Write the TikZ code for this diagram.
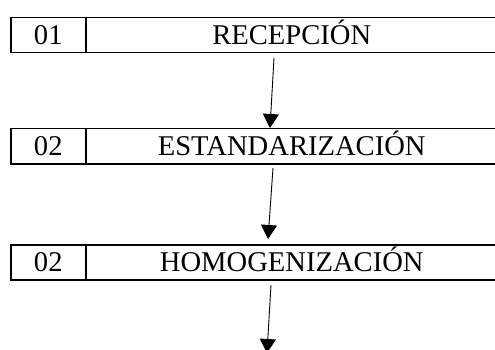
\documentclass[tikz,border=0pt]{standalone}
\usepackage{fontspec}
\setmainfont{Liberation Serif}
\usetikzlibrary{arrows.meta}
\begin{document}
\begin{tikzpicture}[x=1pt,y=-1pt,
  cell/.style={draw,line width=1.5pt,rectangle,anchor=north west,minimum height=35pt,inner sep=0pt,text height=19pt,text depth=0pt,font=\fontsize{28.6}{30}\selectfont},
  numcell/.style={cell,minimum width=75pt},
  labcell/.style={cell,minimum width=412pt},
  flow/.style={line width=0.9pt,-{Triangle[width=16pt,length=14pt]}}]
\useasboundingbox (0,0) rectangle (495,350);
\node[numcell] (n1) at (10,17) {01};
\node[labcell] (l1) at (85,17) {RECEPCIÓN};
\node[numcell] (n2) at (10,128) {02};
\node[labcell] (l2) at (85,128) {ESTANDARIZACIÓN};
\node[numcell] (n3) at (10,244) {02};
\node[labcell] (l3) at (85,244) {HOMOGENIZACIÓN};
\coordinate (s1) at (274,58);
\coordinate (t1) at (270,128);
\coordinate (s2) at (273,168);
\coordinate (t2) at (268,239);
\coordinate (s3) at (271,285);
\coordinate (t3) at (267,353);
\draw[flow] (s1) -- (t1);
\draw[flow] (s2) -- (t2);
\draw[flow] (s3) -- (t3);
\end{tikzpicture}
\end{document}
